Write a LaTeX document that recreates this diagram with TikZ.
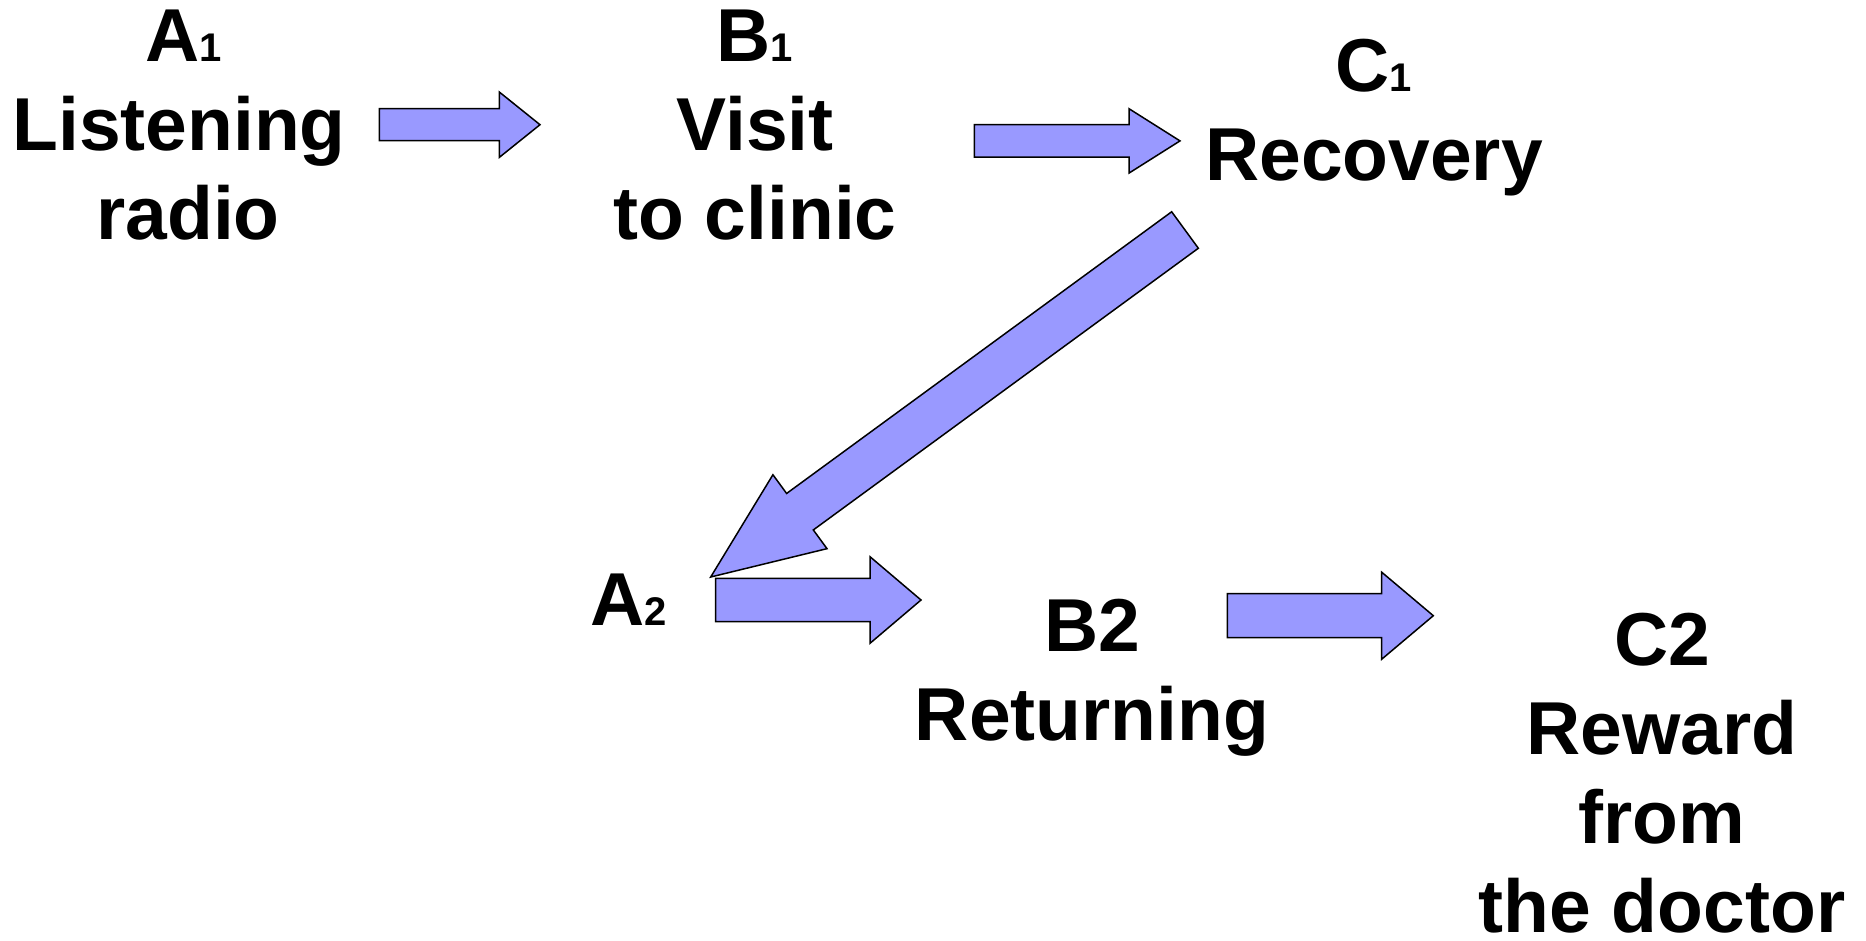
\documentclass[tikz,border=0pt]{standalone}
\usepackage{fontspec}
\setmainfont{Liberation Sans}
\usetikzlibrary{calc}
\definecolor{arrfill}{HTML}{9999FF}
\tikzset{
  blockarrow/.style={draw=black, line width=1.5pt, fill=arrfill, line join=miter},
  lbl/.style={font=\bfseries\fontsize{75}{89}\selectfont, align=center, inner sep=0pt, text=black},
}
\newcommand\smalldig[1]{{\fontsize{40}{40}\selectfont #1}}
% #1 tail, #2 tip, #3 half shaft width, #4 half head width, #5 head length
\newcommand\blockarr[5]{%
  \path ($(#2)!#5!(#1)$) coordinate (hb);
  \draw[blockarrow] ($(#1)!#3!90:(#2)$) -- ($(hb)!#3!90:(#2)$) -- ($(hb)!#4!90:(#2)$)
    -- (#2) -- ($(hb)!#4!-90:(#2)$) -- ($(hb)!#3!-90:(#2)$) -- ($(#1)!#3!-90:(#2)$) -- cycle;
}
\begin{document}
\begin{tikzpicture}[x=1pt,y=-1pt]
\useasboundingbox (0,0) rectangle (1866,940);
% labels
\node[lbl, anchor=north] (A1) at (179,10) {\hspace{10pt}A\smalldig{1}\\Listening\\\hspace{18pt}radio};
\node[lbl, anchor=north] (B1) at (755,10) {B\smalldig{1}\\Visit\\to clinic};
\node[lbl, anchor=north] (C1) at (1374,39) {C\smalldig{1}\\Recovery};
\node[lbl, anchor=base west] (A2) at (590,625) {A\smalldig{2}};
\node[lbl, anchor=north] (B2) at (1092,599) {B2\\Returning};
\node[lbl, anchor=north] (C2) at (1662,613) {C2\\Reward\\from\\the doctor};
% arrow end points
\coordinate (a1s) at (379.3,124.7);  \coordinate (a1e) at (540,124.7);
\coordinate (a2s) at (974.3,140.9);  \coordinate (a2e) at (1180,140.9);
\coordinate (a3s) at (1185,230);     \coordinate (a3e) at (710.7,577);
\coordinate (a4s) at (715.7,600);    \coordinate (a4e) at (921,600);
\coordinate (a5s) at (1227.3,615.7); \coordinate (a5e) at (1433.3,615.7);
% arrows
\blockarr{a1s}{a1e}{16pt}{32.7pt}{40.7pt}
\blockarr{a2s}{a2e}{16.2pt}{32.2pt}{51pt}
\blockarr{a3s}{a3e}{22.6pt}{45.8pt}{110.6pt}
\blockarr{a4s}{a4e}{21.7pt}{43.3pt}{51pt}
\blockarr{a5s}{a5e}{22pt}{43.5pt}{51.6pt}
\end{tikzpicture}
\end{document}
